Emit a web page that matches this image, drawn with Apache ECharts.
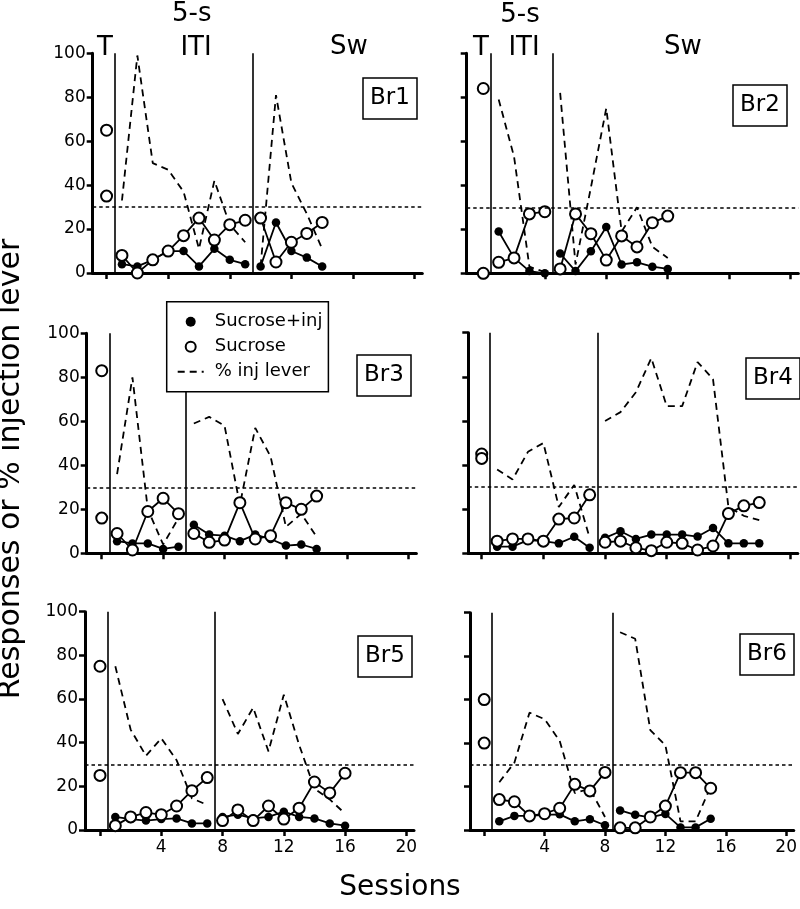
<!DOCTYPE html>
<html><head><meta charset="utf-8">
<script src="https://cdn.jsdelivr.net/npm/echarts@6/dist/echarts.min.js"></script>
<style>html,body{margin:0;padding:0;background:#fff}#c{width:800px;height:909px}</style>
</head><body><div id="c"></div>
<script>
// ---------------- DATA ----------------
const panelNames = ['Br1', 'Br2', 'Br3', 'Br4', 'Br5', 'Br6'];
const xTickValues = [0, 4, 8, 12, 16, 20];
const xLabelValues = [4, 8, 12, 16, 20];
const criterion = 30;

// Br1
const br1T = [65, 35];
const br1Breaks = [0.5, 9.5];
const br1ItiSuc = [8, 0, 6, 10, 17, 25, 15, 22, 24];
const br1ItiInj = [4, 3, 6, 10, 10, 3, 11, 6, 4];
const br1ItiPct = [33, 99, 50, 47, 37, 11, 42, 22, 14];
const br1SwSuc = [25, 5, 14, 18, 23];
const br1SwInj = [3, 23, 10, 7, 3];
const br1SwPct = [3, 81, 41, 27, 11];

// Br2
const br2T = [84, 0];
const br2Breaks = [0.5, 4.5];
const br2ItiSuc = [5, 7, 27, 28];
const br2ItiInj = [19, 7, 1, 0];
const br2ItiPct = [79, 53, 3, 0.5];
const br2SwSuc = [2, 27, 18, 6, 17, 12, 23, 26];
const br2SwInj = [9, 1, 10, 21, 4, 5, 3, 2];
const br2SwPct = [82, 4, 39, 75, 19, 30, 12, 7];

// Br3
const br3T = [83, 16];
const br3Breaks = [0.5, 5.5];
const br3ItiSuc = [9, 1.5, 19, 25, 18];
const br3ItiInj = [5.5, 4.5, 4.5, 2, 3];
const br3ItiPct = [36, 80, 20, 4, 16];
const br3SwSuc = [9, 5, 6, 23, 6.5, 8, 23, 20, 26];
const br3SwInj = [13, 8.5, 8, 5.5, 8.5, 6.5, 3.5, 4, 2];
const br3SwPct = [59, 62, 58, 22, 57, 44, 12, 18, 7.5];

// Br4
const br4T = [45, 43];
const br4Breaks = [0.5, 7.5];
const br4ItiSuc = [5.5, 6.5, 6.5, 5.5, 15.5, 16, 26.5];
const br4ItiInj = [3, 3, 6, 5.5, 4.5, 7.5, 2.5];
const br4ItiPct = [38, 33.5, 46, 50, 21, 31, 7];
const br4SwSuc = [5, 5.5, 2.5, 1.2, 5, 4.5, 1.5, 3.3, 18, 21.5, 23];
const br4SwInj = [7, 10, 6.5, 8.5, 8.5, 8.5, 7.6, 11.5, 4.5, 4.5, 4.5];
const br4SwPct = [60, 64, 73, 88.5, 66.7, 66.7, 86.7, 79, 21, 17, 15];

// Br5
const br5T = [75, 25];
const br5Breaks = [0.5, 7.5];
const br5ItiSuc = [2, 6, 8, 7, 11, 18, 24];
const br5ItiInj = [6, 5, 4.3, 5, 5.3, 3, 3];
const br5ItiPct = [75, 46, 34, 42, 32, 14.5, 11.5];
const br5SwSuc = [4.3, 9.2, 4.3, 11, 5, 10, 22, 17, 26];
const br5SwInj = [6, 7, 5.3, 6, 8.4, 6, 5.3, 3, 2];
const br5SwPct = [60, 44, 56, 36, 62, 39, 19, 14, 7.5];

// Br6
const br6T = [60, 40];
const br6Breaks = [0.5, 8.5];
const br6ItiSuc = [14, 13, 6.5, 7.5, 10, 21, 18, 26.5];
const br6ItiInj = [4, 6.5, 6.5, 7, 7.2, 4, 5, 2.2];
const br6ItiPct = [22, 31, 54, 51, 41, 17, 19, 6];
const br6SwSuc = [1, 1, 6, 11, 26.4, 26.4, 19.2];
const br6SwInj = [9, 7, 5.8, 7.4, 1.2, 1.2, 5.2];
const br6SwPct = [91, 88, 46, 39, 4, 4, 20];

// ---------------- LAYOUT (pixels) ----------------
const layout = [
  {left: 92.7, top: 53.3, width: 329.6, height: 219.7, xmin: -0.9},
  {left: 466.7, top: 53.3, width: 331.7, height: 220, xmin: -1.08},
  {left: 86.7, top: 333.3, width: 329.7, height: 220, xmin: -0.98},
  {left: 468.3, top: 332.7, width: 329.5, height: 220.6, xmin: -0.87},
  {left: 85, top: 611.7, width: 329, height: 218.3, xmin: -0.98},
  {left: 470, top: 612.7, width: 325.9, height: 217.3, xmin: -0.94}
];
const boxPos = [[363, 78], [733, 85], [357, 355], [746, 358], [358, 636], [740, 634]];

const panels = [
  {T: br1T, br: br1Breaks, iS: br1ItiSuc, iI: br1ItiInj, iP: br1ItiPct, sS: br1SwSuc, sI: br1SwInj, sP: br1SwPct},
  {T: br2T, br: br2Breaks, iS: br2ItiSuc, iI: br2ItiInj, iP: br2ItiPct, sS: br2SwSuc, sI: br2SwInj, sP: br2SwPct},
  {T: br3T, br: br3Breaks, iS: br3ItiSuc, iI: br3ItiInj, iP: br3ItiPct, sS: br3SwSuc, sI: br3SwInj, sP: br3SwPct},
  {T: br4T, br: br4Breaks, iS: br4ItiSuc, iI: br4ItiInj, iP: br4ItiPct, sS: br4SwSuc, sI: br4SwInj, sP: br4SwPct},
  {T: br5T, br: br5Breaks, iS: br5ItiSuc, iI: br5ItiInj, iP: br5ItiPct, sS: br5SwSuc, sI: br5SwInj, sP: br5SwPct},
  {T: br6T, br: br6Breaks, iS: br6ItiSuc, iI: br6ItiInj, iP: br6ItiPct, sS: br6SwSuc, sI: br6SwInj, sP: br6SwPct}
];

const FONT = 'DejaVu Sans';
function seq(start, arr) { return arr.map((v, i) => [start + i, v]); }

const grids = [], xAxes = [], yAxes = [], series = [], titles = [];
panels.forEach((p, i) => {
  const L = layout[i];
  grids.push({left: L.left, top: L.top, width: L.width, height: L.height});
  const bottomRow = i >= 4, leftCol = i % 2 === 0;
  xAxes.push({
    gridIndex: i, type: 'value', min: L.xmin, max: 20.5,
    axisLine: {show: true, onZero: false, lineStyle: {color: '#000', width: 3}},
    axisTick: {show: true, customValues: xTickValues, length: 6, lineStyle: {color: '#000', width: 2.5}},
    axisLabel: {show: bottomRow, customValues: xLabelValues, color: '#000', fontSize: 17, fontFamily: FONT, margin: 9},
    splitLine: {show: false}
  });
  yAxes.push({
    gridIndex: i, type: 'value', min: 0, max: 100, interval: 20,
    axisLine: {show: true, onZero: false, lineStyle: {color: '#000', width: 3}},
    axisTick: {show: true, length: 6, lineStyle: {color: '#000', width: 2.5}},
    axisLabel: {show: leftCol, color: '#000', fontSize: 17, fontFamily: FONT, margin: 7},
    splitLine: {show: false}
  });
  const itiStart = p.br[0] + 0.5, swStart = p.br[1] + 0.5;
  const common = {xAxisIndex: i, yAxisIndex: i, animation: false, silent: true};
  const dashed = {color: '#000', width: 1.8, type: [7, 5]};
  series.push(Object.assign({}, common, {
    type: 'line', name: '% inj lever', data: seq(itiStart, p.iP), symbol: 'none',
    lineStyle: dashed, itemStyle: {color: '#000'}, z: 2,
    markLine: {
      silent: true, symbol: ['none', 'none'], label: {show: false}, animation: false,
      lineStyle: {color: '#000', width: 1.6, type: 'solid'},
      data: [
        {yAxis: criterion, lineStyle: {type: [3.5, 3], width: 1.6, color: '#000'}},
        [{coord: [p.br[0], 0]}, {coord: [p.br[0], 100]}],
        [{coord: [p.br[1], 0]}, {coord: [p.br[1], 100]}]
      ]
    }
  }));
  series.push(Object.assign({}, common, {
    type: 'line', name: '% inj lever', data: seq(swStart, p.sP), symbol: 'none',
    lineStyle: dashed, itemStyle: {color: '#000'}, z: 2
  }));
  const filled = {type: 'line', name: 'Sucrose+inj', symbol: 'circle', symbolSize: 8.5, showAllSymbol: true,
    itemStyle: {color: '#000', borderWidth: 0, opacity: 1}, lineStyle: {color: '#000', width: 1.8}, z: 3};
  series.push(Object.assign({}, common, filled, {data: seq(itiStart, p.iI)}));
  series.push(Object.assign({}, common, filled, {data: seq(swStart, p.sI)}));
  const open = {name: 'Sucrose', symbol: 'circle', symbolSize: 11, showAllSymbol: true,
    itemStyle: {color: '#fff', borderColor: '#000', borderWidth: 2, opacity: 1}, lineStyle: {color: '#000', width: 1.8}, z: 4};
  series.push(Object.assign({}, common, open, {type: 'scatter', data: p.T.map(v => [0, v])}));
  series.push(Object.assign({}, common, open, {type: 'line', data: seq(itiStart, p.iS)}));
  series.push(Object.assign({}, common, open, {type: 'line', data: seq(swStart, p.sS)}));

  titles.push({
    text: panelNames[i], left: boxPos[i][0], top: boxPos[i][1],
    borderColor: '#000', borderWidth: 1.5, padding: [7, 7, 7, 7], backgroundColor: '#fff',
    textStyle: {fontSize: 23, fontWeight: 'normal', color: '#000', fontFamily: FONT, lineHeight: 27}
  });
});

function txt(x, y, s, size, extra) {
  return Object.assign({type: 'text', x: x, y: y, silent: true,
    style: {text: s, fontSize: size, fontFamily: FONT, fill: '#000', align: 'center', verticalAlign: 'middle'}}, extra || {});
}

const option = {
  animation: false,
  textStyle: {fontFamily: FONT},
  title: titles,
  grid: grids, xAxis: xAxes, yAxis: yAxes, series: series,
  legend: {
    show: true, left: 166.7, top: 301.7, orient: 'vertical', selectedMode: false,
    backgroundColor: '#fff', borderColor: '#000', borderWidth: 1.5,
    padding: [10, 6, 10, 10], itemGap: 5, itemWidth: 26, itemHeight: 10, z: 10,
    textStyle: {fontSize: 18, fontFamily: FONT, color: '#000', lineHeight: 20, padding: [0, 0, 0, 6]},
    data: [
      {name: 'Sucrose+inj', icon: 'circle'},
      {name: 'Sucrose', icon: 'circle', itemStyle: {color: '#fff', borderColor: '#000', borderWidth: 2, opacity: 1}},
      {name: '% inj lever', itemStyle: {opacity: 0, color: 'rgba(0,0,0,0)', borderWidth: 0}}
    ]
  },
  graphic: [
    txt(191.7, 14, '5-s', 26), txt(105, 48, 'T', 26), txt(196, 48, 'ITI', 26), txt(349, 47, 'Sw', 26),
    txt(520, 15, '5-s', 26), txt(481, 48, 'T', 26), txt(524, 48, 'ITI', 26), txt(683, 47, 'Sw', 26),
    txt(400, 888, 'Sessions', 28),
    txt(11, 469, 'Responses or % injection lever', 30, {rotation: Math.PI / 2})
  ]
};
const chart = echarts.init(document.getElementById('c'), null, {renderer: 'canvas'});
chart.setOption(option);
</script></body></html>
